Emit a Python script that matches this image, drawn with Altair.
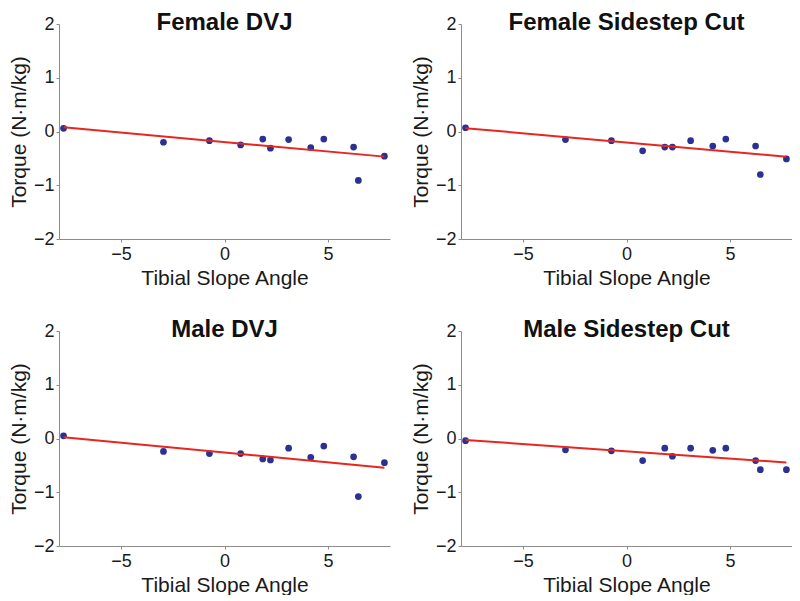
import altair as alt
import pandas as pd

# Tibial slope angle (x) shared by the panels
tibial_slope = [-7.78, -2.95, -0.73, 0.78, 1.85, 2.22, 3.10, 4.17, 4.80, 6.24, 6.47, 7.73]

# Torque (N·m/kg) per panel
female_dvj = [0.06, -0.20, -0.17, -0.25, -0.14, -0.31, -0.15, -0.30, -0.14, -0.29, -0.91, -0.46]
female_cut = [0.07, -0.15, -0.17, -0.36, -0.29, -0.29, -0.17, -0.27, -0.14, -0.27, -0.80, -0.51]
male_dvj = [0.05, -0.24, -0.28, -0.28, -0.38, -0.40, -0.18, -0.35, -0.14, -0.34, -1.08, -0.45]
male_cut = [-0.04, -0.21, -0.23, -0.41, -0.18, -0.33, -0.18, -0.22, -0.18, -0.41, -0.58, -0.58]

panel_titles = ["Female DVJ", "Female Sidestep Cut", "Male DVJ", "Male Sidestep Cut"]
panel_values = [female_dvj, female_cut, male_dvj, male_cut]

x_ticks = [-5, 0, 5]
y_ticks = [-2, -1, 0, 1, 2]
x_domain = [-8, 8]
y_domain = [-2, 2]

FONT = "Liberation Sans"
DOT = "#2b3190"
RED = "#e8261f"


def panel(title, values):
    df = pd.DataFrame({"slope": tibial_slope, "torque": values})
    x = alt.X(
        "slope:Q",
        scale=alt.Scale(domain=x_domain, nice=False, zero=False),
        axis=alt.Axis(values=x_ticks, title="Tibial Slope Angle",
                      labelPadding=3, titlePadding=4),
    )
    y = alt.Y(
        "torque:Q",
        scale=alt.Scale(domain=y_domain, nice=False, zero=False),
        axis=alt.Axis(values=y_ticks, title="Torque (N·m/kg)",
                      labelPadding=2, titlePadding=4),
    )
    base = alt.Chart(df)
    pts = base.mark_circle(size=45, color=DOT, opacity=1).encode(x=x, y=y)
    line = (
        base.transform_regression("slope", "torque")
        .mark_line(color=RED, strokeWidth=2)
        .encode(x=x, y=y)
    )
    return alt.layer(pts, line).properties(
        width=331,
        height=215,
        title=alt.TitleParams(
            title,
            font=FONT,
            fontSize=24,
            fontWeight="bold",
            color="#111111",
            anchor="middle",
            frame="group",
            baseline="alphabetic",
            offset=-39,
        ),
    )


panels = [panel(t, v) for t, v in zip(panel_titles, panel_values)]

chart = (
    alt.concat(*panels, columns=2, spacing={"row": 30, "column": 20})
    .properties(padding={"left": 0, "top": 3, "right": 0, "bottom": 0},
                background="white")
    .configure_view(stroke=None)
    .configure_axis(
        grid=False,
        domainColor="#8c8c8c",
        tickColor="#8c8c8c",
        tickSize=3,
        labelFont=FONT,
        labelFontSize=18,
        labelColor="#1a1a1a",
        titleFont=FONT,
        titleFontSize=21,
        titleFontWeight="normal",
        titleColor="#1a1a1a",
    )
)

chart.save("out.html", embed_options={"renderer": "svg", "actions": False})
